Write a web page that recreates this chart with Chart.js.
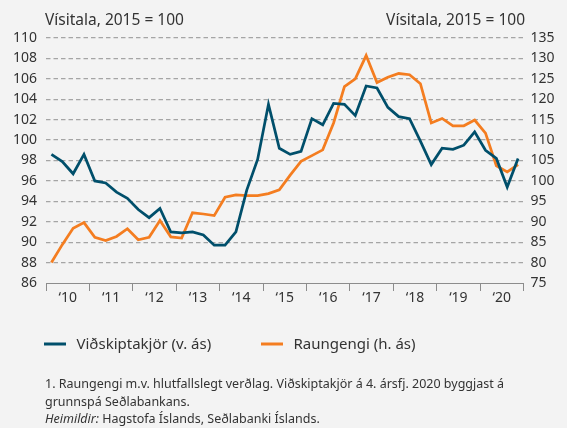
<!DOCTYPE html>
<html>
<head>
<meta charset="utf-8">
<script src="https://cdn.jsdelivr.net/npm/chart.js@4"></script>
<style>
html,body{margin:0;padding:0;background:#f3f3f3;width:567px;height:428px;overflow:hidden}
#box{position:absolute;left:0;top:0;width:567px;height:428px}
</style>
</head>
<body>
<div id="box"><canvas id="c" width="567" height="428"></canvas></div>
<script>
const years = ['2010','2011','2012','2013','2014','2015','2016','2017','2018','2019','2020'];
const yearTickLabels = ['‘10','‘11','‘12','‘13','‘14','‘15','‘16','‘17','‘18','‘19','‘20'];
const quarterNames = ['Q1','Q2','Q3','Q4'];
const quarters = years.flatMap(y => quarterNames.map(q => y + q));

const seriesNames = ['Viðskiptakjör (v. ás)', 'Raungengi (h. ás)'];
const axisTitle = 'Vísitala, 2015 = 100';

// Viðskiptakjör (left axis)
const tradeTerms = [
  98.6, 97.9, 96.7, 98.6,
  96.0, 95.8, 94.9, 94.3,
  93.2, 92.4, 93.3, 91.0,
  90.9, 91.0, 90.7, 89.7,
  89.7, 91.0, 95.1, 98.1,
  103.5, 99.2, 98.6, 98.9,
  102.1, 101.5, 103.6, 103.5,
  102.4, 105.3, 105.1, 103.2,
  102.3, 102.1, 99.9, 97.6,
  99.2, 99.1, 99.5, 100.8,
  99.0, 98.2, 95.4, 98.2
];
// Raungengi (right axis)
const realExchangeRate = [
  80.0, 84.4, 88.4, 89.8,
  86.2, 85.4, 86.4, 88.3,
  85.6, 86.2, 90.3, 86.3,
  86.0, 92.2, 91.9, 91.5,
  96.0, 96.6, 96.4, 96.4,
  96.9, 97.8, 101.4, 104.8,
  106.2, 107.6, 114.2, 123.1,
  125.0, 130.7, 124.1, 125.4,
  126.3, 126.0, 123.8, 114.2,
  115.3, 113.5, 113.5, 114.9,
  111.7, 103.7, 102.2, 104.0
];

const leftTickValues = [86, 88, 90, 92, 94, 96, 98, 100, 102, 104, 106, 108, 110];
const rightTickValues = [75, 80, 85, 90, 95, 100, 105, 110, 115, 120, 125, 130, 135];

const footnoteLines = [
  '1. Raungengi m.v. hlutfallslegt verðlag. Viðskiptakjör á 4. ársfj. 2020 byggjast á',
  'grunnspá Seðlabankans.'
];
const sourceLabel = 'Heimildir:';
const sourceText = ' Hagstofa Íslands, Seðlabanki Íslands.';

const BLUE = '#004f6b';
const ORANGE = '#f47d20';
const TEXT = '#333333';
const FONT = '"Noto Sans", sans-serif';

Chart.defaults.font.family = FONT;
Chart.defaults.color = TEXT;

const textPlugin = {
  id: 'texts',
  afterDraw(chart) {
    const c = chart.ctx;
    c.save();
    c.fillStyle = TEXT;
    c.textBaseline = 'alphabetic';
    c.font = '15.5px ' + FONT;
    c.textAlign = 'left';
    c.fillText(axisTitle, 45, 25);
    c.textAlign = 'right';
    c.fillText(axisTitle, 525, 25);

    // legend
    const legendY = 344;
    const items = [
      {x: 44, color: BLUE, label: seriesNames[0]},
      {x: 261, color: ORANGE, label: seriesNames[1]}
    ];
    c.font = '15px ' + FONT;
    c.textAlign = 'left';
    items.forEach(it => {
      c.strokeStyle = it.color;
      c.lineWidth = 3;
      c.beginPath();
      c.moveTo(it.x, legendY);
      c.lineTo(it.x + 22, legendY);
      c.stroke();
      c.fillStyle = TEXT;
      c.fillText(it.label, it.x + 32.5, legendY + 4.5);
    });

    // footnotes
    c.font = '12.5px ' + FONT;
    c.fillText(footnoteLines[0], 45, 388);
    c.fillText(footnoteLines[1], 45, 405.5);
    c.font = 'italic 12.5px ' + FONT;
    c.fillText(sourceLabel, 45, 422.5);
    const w = c.measureText(sourceLabel).width;
    c.font = '12.5px ' + FONT;
    c.fillText(sourceText, 45 + w, 422.5);
    c.restore();
  }
};

const toPoints = arr => arr.map((v, i) => ({x: i + 0.5, y: v}));

new Chart(document.getElementById('c'), {
  type: 'line',
  data: {
    labels: quarters,
    datasets: [
      {
        label: seriesNames[0],
        data: toPoints(tradeTerms),
        yAxisID: 'y',
        borderColor: BLUE,
        borderWidth: 2.75,
        pointRadius: 0,
        tension: 0,
        fill: false
      },
      {
        label: seriesNames[1],
        data: toPoints(realExchangeRate),
        yAxisID: 'y1',
        borderColor: ORANGE,
        borderWidth: 2.75,
        pointRadius: 0,
        tension: 0,
        fill: false
      }
    ]
  },
  options: {
    responsive: false,
    animation: false,
    events: [],
    layout: {padding: {top: 38, bottom: 118, left: 0, right: 0}},
    plugins: {legend: {display: false}, tooltip: {enabled: false}},
    scales: {
      x: {
        type: 'linear',
        position: 'bottom',
        min: 0,
        max: quarters.length,
        afterFit: s => { s.height = 27; },
        afterBuildTicks: s => {
          const t = [];
          for (let v = 0; v <= quarters.length; v += 2) t.push({value: v});
          s.ticks = t;
        },
        ticks: {
          autoSkip: false,
          maxRotation: 0,
          padding: -1,
          font: {size: 14},
          color: TEXT,
          callback: v => (v % 4 === 2 ? yearTickLabels[(v - 2) / 4] : '')
        },
        grid: {
          drawOnChartArea: false,
          drawTicks: true,
          tickLength: 8,
          tickWidth: 1,
          tickColor: ctx => (ctx.tick && ctx.tick.value % 4 === 0 ? '#8c8c8c' : 'rgba(0,0,0,0)')
        },
        border: {display: true, color: '#8c8c8c', width: 1}
      },
      y: {
        position: 'left',
        min: leftTickValues[0],
        max: leftTickValues[leftTickValues.length - 1],
        afterFit: s => { s.width = 46; },
        afterBuildTicks: s => { s.ticks = leftTickValues.map(v => ({value: v})); },
        ticks: {padding: 9, font: {size: 14}, color: TEXT},
        grid: {
          drawTicks: false,
          color: ctx => (ctx.tick && ctx.tick.value === leftTickValues[0] ? 'rgba(0,0,0,0)' : '#a5a5a5'),
          lineWidth: 1.3
        },
        border: {display: false, dash: [4.5, 3]}
      },
      y1: {
        position: 'right',
        min: rightTickValues[0],
        max: rightTickValues[rightTickValues.length - 1],
        afterFit: s => { s.width = 43.5; },
        afterBuildTicks: s => { s.ticks = rightTickValues.map(v => ({value: v})); },
        ticks: {padding: 7, font: {size: 14}, color: TEXT},
        grid: {drawOnChartArea: false, drawTicks: false},
        border: {display: false}
      }
    }
  },
  plugins: [textPlugin]
});
</script>
</body>
</html>
